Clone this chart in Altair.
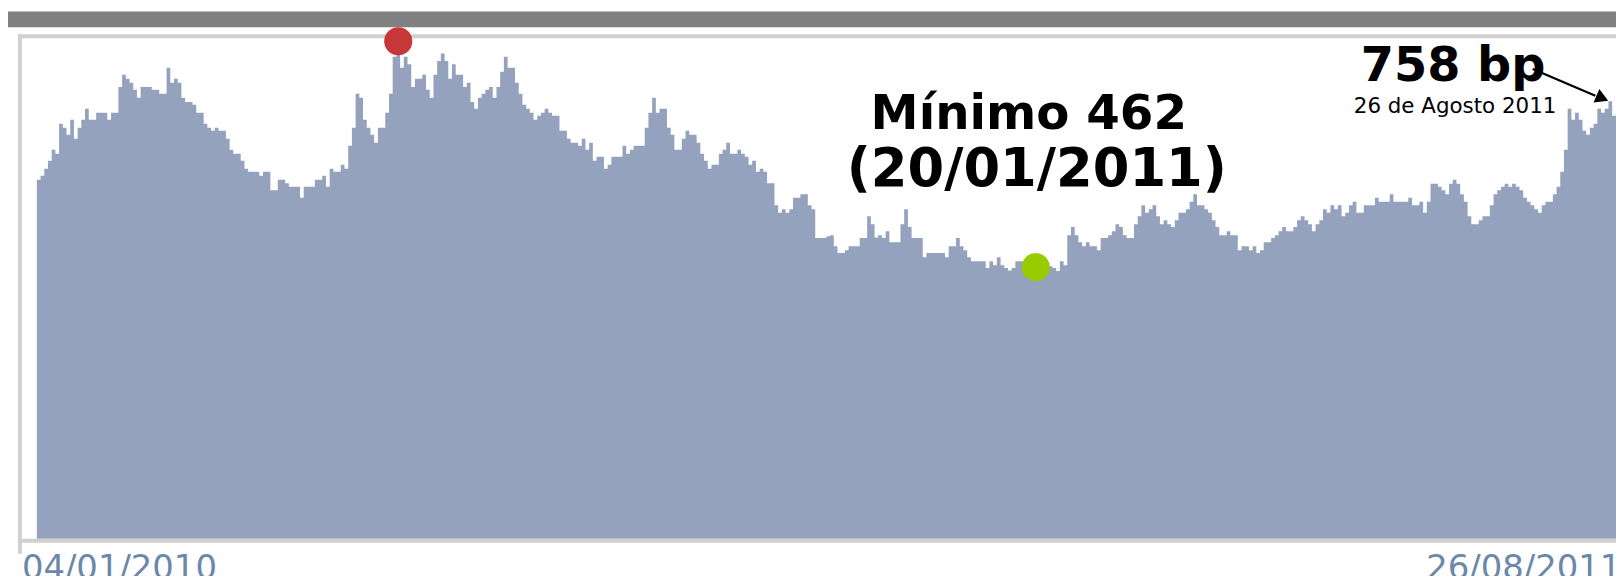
import altair as alt
import pandas as pd

# Daily spread values (bp), left to right
SEG_1 = [622, 629, 641, 655, 674, 667, 719, 712, 700, 726,
         693, 712, 726, 745, 726, 726, 738, 738, 738, 726,
         738, 738, 783, 804, 797, 790, 778, 764, 783, 783,
         783, 778, 778, 771, 771, 816, 790, 797, 790, 764,
         757, 757, 752, 738, 738, 719, 712, 707, 712, 707,
         707, 693, 674, 667, 667, 655, 641, 636, 636, 636,
         629, 636, 636, 604, 604, 622, 622, 616, 610, 610, 610]
SEG_2 = [591, 610, 610, 610, 622, 622, 629, 610, 641, 636,
         636, 648, 641, 681, 712, 771, 764, 726, 712, 700,
         686, 712, 712, 738, 771, 835, 862, 816, 835, 822,
         783, 797, 797, 804, 778, 764, 804, 828, 841, 828,
         797, 822, 804, 804, 783, 790, 757, 745, 764, 771,
         778, 783, 764, 783, 809, 835, 816, 816, 790, 771,
         752, 745, 738, 726, 733, 738, 745, 738, 733, 733]
SEG_3 = [707, 707, 693, 686, 686, 681, 693, 674, 686, 655,
         662, 662, 641, 648, 662, 662, 662, 681, 667, 674,
         681, 681, 681, 712, 738, 764, 738, 745, 745, 712,
         700, 674, 674, 693, 707, 700, 700, 686, 667, 655,
         641, 648, 648, 667, 674, 686, 667, 667, 674, 667,
         662, 648, 655, 636, 641, 636, 616, 616, 578, 565,
         571, 565, 571, 591, 591, 597, 597, 578, 571, 521,
         521, 521]
SEG_4 = [524, 526, 507, 495, 495, 500, 507, 507, 507, 521,
         521, 559, 545, 522, 526, 521, 533, 514, 514, 514,
         545, 571, 540, 521, 521, 521, 488, 495, 495, 495,
         495, 495, 488, 507, 507, 521, 507, 500, 488, 481,
         481, 481, 481, 469, 481, 474, 488, 474, 469, 465,
         469, 481, 481, 474, 469, 466, 462, 466, 469, 466,
         472, 469, 464, 481, 474, 526, 540, 526, 514, 507,
         514, 507, 507]
SEG_5 = [500, 521, 521, 526, 533, 545, 540, 526, 521, 521,
         545, 559, 578, 565, 571, 578, 559, 545, 552, 545,
         540, 552, 565, 565, 571, 584, 597, 578, 578, 571,
         565, 552, 540, 526, 526, 533, 526, 526, 500, 507,
         507, 500, 507, 495, 500, 514, 514, 521, 526, 533,
         540, 533, 533, 540, 552, 559, 552, 545, 533, 545,
         552, 571, 565, 578, 571, 578, 559, 565, 578, 584,
         565]
SEG_6 = [565, 578, 578, 578, 591, 584, 584, 584, 597, 584,
         584, 584, 584, 591, 578, 578, 584, 565, 584, 615,
         615, 610, 604, 597, 615, 622, 615, 597, 584, 559,
         545, 545, 552, 559, 559, 578, 597, 604, 610, 615,
         610, 615, 610, 604, 591, 584, 578, 571, 565, 578,
         584, 584, 597, 610, 636, 674, 745, 726, 738, 726,
         707, 700, 712, 719, 745, 738, 745, 758, 733, 738,
         745]

X_LABELS = ["04/01/2010", "26/08/2011"]
MIN_DATE = "20/01/2011"
LAST_VALUE = 758
LAST_DATE = "26 de Agosto 2011"

values = SEG_1 + SEG_2 + SEG_3 + SEG_4 + SEG_5 + SEG_6
n = len(values)
df = pd.DataFrame({"dia": list(range(n)) + [n], "bp": values + [values[-1]]})

W, H = 1616, 568
xs = alt.Scale(domain=[-7.785, 426.04], nice=False, zero=False)
ys = alt.Scale(domain=[-62.07, 917.24], nice=False, zero=False)
X = lambda f: alt.X(f, type="quantitative", scale=xs, axis=None)
Y = lambda f: alt.Y(f, type="quantitative", scale=ys, axis=None)

area = alt.Chart(df).mark_area(interpolate="step-after", color="#94A2BD").encode(
    x=X("dia"), y=Y("bp"), y2=alt.datum(0)
)

one = pd.DataFrame({"k": [0]})
def rect(x1, x2, y1, y2, color):
    return alt.Chart(one).mark_rect(color=color).encode(
        x=alt.value(x1), x2=alt.value(x2), y=alt.value(y1), y2=alt.value(y2)
    )

frame = [
    rect(0, W, 2, 18, "#808080"),
    rect(10, W, 25, 29, "#D0D0D0"),
    rect(10, 14, 25, 547, "#D0D0D0"),
    rect(10, W, 532, 536, "#D0D0D0"),
]

i_max = values.index(max(values))
i_min = values.index(min(values))
i_last = values.index(LAST_VALUE)

red = alt.Chart(pd.DataFrame({"dia": [i_max + 0.5], "bp": [values[i_max]]})).mark_circle(
    size=800, opacity=1, color="#C83737"
).encode(x=X("dia"), y=Y("bp"))

mn = pd.DataFrame({"dia": [i_min + 0.5], "bp": [values[i_min]]})
green = alt.Chart(mn).mark_circle(size=800, opacity=1, color="#99CC00", yOffset=-5).encode(
    x=X("dia"), y=Y("bp")
)
txt_min1 = alt.Chart(mn).mark_text(
    text=f"Mínimo {values[i_min]}", font="DejaVu Sans", fontWeight="bold",
    fontSize=48.5, color="black", align="center", baseline="alphabetic", dx=-7, dy=-144
).encode(x=X("dia"), y=Y("bp"))
txt_min2 = alt.Chart(mn).mark_text(
    text=f"({MIN_DATE})", font="DejaVu Sans", fontWeight="bold",
    fontSize=53, color="black", align="center", baseline="alphabetic", dx=1, dy=-87
).encode(x=X("dia"), y=Y("bp"))

last = pd.DataFrame({"dia": [i_last + 0.5], "bp": [LAST_VALUE]})
txt_last1 = alt.Chart(last).mark_text(
    text=f"{LAST_VALUE} bp", font="DejaVu Sans", fontWeight="bold",
    fontSize=48, color="black", align="center", baseline="alphabetic", dx=-158, dy=-20
).encode(x=X("dia"), y=Y("bp"))
txt_last2 = alt.Chart(last).mark_text(
    text=LAST_DATE, font="DejaVu Sans", fontSize=21.5, color="black",
    align="center", baseline="alphabetic", dx=-156, dy=12
).encode(x=X("dia"), y=Y("bp"))
arrow_line = alt.Chart(last).mark_rule(
    color="black", strokeWidth=2.2,
    xOffset=-78, yOffset=-32.4, x2Offset=-15, y2Offset=-5.6
).encode(x=X("dia"), y=Y("bp"), x2=alt.X2("dia"), y2=alt.Y2("bp"))
arrow_head = alt.Chart(last).mark_point(
    shape="triangle-right", filled=True, color="black", opacity=1, size=220,
    angle=23, xOffset=-8, yOffset=-3
).encode(x=X("dia"), y=Y("bp"))

lab = pd.DataFrame({"dia": [0, n], "bp": [0, 0], "t": X_LABELS})
lab_left = alt.Chart(lab.iloc[[0]]).mark_text(
    font="DejaVu Sans", fontSize=34, color="#6B87AA", align="left",
    baseline="alphabetic", dx=-15, dy=40
).encode(x=X("dia"), y=Y("bp"), text="t:N")
lab_right = alt.Chart(lab.iloc[[1]]).mark_text(
    font="DejaVu Sans", fontSize=34, color="#6B87AA", align="right",
    baseline="alphabetic", dx=-2, dy=40
).encode(x=X("dia"), y=Y("bp"), text="t:N")

chart = alt.layer(
    area, *frame, red, green, txt_min1, txt_min2, txt_last1, txt_last2,
    arrow_line, arrow_head, lab_left, lab_right
).properties(
    width=W, height=H, padding=0, background="white",
    autosize=alt.AutoSizeParams(type="none", contains="padding")
).configure_view(stroke=None)

chart.save("out.html", embed_options={"renderer": "svg", "actions": False})
